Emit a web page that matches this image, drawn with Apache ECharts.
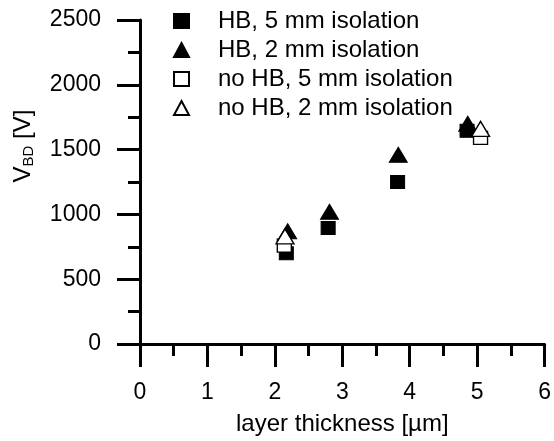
<!DOCTYPE html>
<html>
<head>
<meta charset="utf-8">
<script src="https://cdn.jsdelivr.net/npm/echarts@6/dist/echarts.min.js"></script>
<style>
html,body{margin:0;padding:0;background:#fff;}
#c{width:554px;height:441px;}
</style>
</head>
<body>
<div id="c"></div>
<script>
const seriesNames = ['HB, 5 mm isolation', 'HB, 2 mm isolation', 'no HB, 5 mm isolation', 'no HB, 2 mm isolation'];
const hb5 = [[2.17, 700], [2.79, 895], [3.82, 1250], [4.85, 1645]];
const hb2 = [[2.19, 870], [2.81, 1020], [3.83, 1460], [4.86, 1700]];
const nohb5 = [[2.14, 760], [5.05, 1590]];
const nohb2 = [[2.15, 830], [5.05, 1660]];
const xTicks = [0, 1, 2, 3, 4, 5, 6];
const yTicks = [0, 500, 1000, 1500, 2000, 2500];
const xTitle = 'layer thickness [µm]';

const font = 'Liberation Sans, Arial, sans-serif';
const chart = echarts.init(document.getElementById('c'));
const axisCommon = {
  axisLine: {onZero: false, lineStyle: {color: '#000', width: 3}},
  axisTick: {inside: false, length: 23, lineStyle: {color: '#000', width: 3}},
  minorTick: {show: true, splitNumber: 2, length: 12, lineStyle: {color: '#000', width: 3}},
  splitLine: {show: false},
  minorSplitLine: {show: false}
};
chart.setOption({
  backgroundColor: '#fff',
  animation: false,
  textStyle: {fontFamily: font, color: '#000'},
  grid: {left: 140, right: 4, top: 20, bottom: 97, containLabel: false},
  legend: {
    orient: 'vertical', left: 168, top: 4, itemGap: 5,
    itemWidth: 15, itemHeight: 14,
    textStyle: {fontFamily: font, fontSize: 24, color: '#000', lineHeight: 24, padding: [0, 0, 0, 24]},
    data: seriesNames
  },
  graphic: [{
    type: 'text', x: 23, y: 146, rotation: Math.PI / 2,
    style: {
      text: '{a|V}{b|BD}{a| [V]}', align: 'center', verticalAlign: 'middle',
      rich: {
        a: {fontFamily: font, fontSize: 24, fill: '#000'},
        b: {fontFamily: font, fontSize: 15, fill: '#000', padding: [11, 0, 0, 0]}
      }
    }
  }],
  xAxis: Object.assign({
    type: 'value', min: xTicks[0], max: xTicks[xTicks.length - 1], interval: 1,
    name: xTitle, nameLocation: 'middle', nameGap: 68,
    nameTextStyle: {fontFamily: font, fontSize: 24, color: '#000'},
    axisLabel: {margin: 37, fontFamily: font, fontSize: 23, color: '#000', showMaxLabel: true,
      formatter: v => String(v)}
  }, axisCommon),
  yAxis: Object.assign({
    type: 'value', min: yTicks[0], max: yTicks[yTicks.length - 1], interval: 500,
    axisLabel: {margin: 39, fontFamily: font, fontSize: 23, color: '#000',
      formatter: v => String(v)}
  }, axisCommon),
  series: [
    {name: seriesNames[0], type: 'scatter', data: hb5, symbol: 'rect', symbolSize: [14, 13],
     itemStyle: {color: '#000', borderColor: '#000', borderWidth: 1, opacity: 1}},
    {name: seriesNames[1], type: 'scatter', data: hb2, symbol: 'triangle', symbolSize: [18, 15],
     itemStyle: {color: '#000', borderColor: '#000', borderWidth: 1, opacity: 1}},
    {name: seriesNames[2], type: 'scatter', data: nohb5, symbol: 'rect', symbolSize: [14, 13],
     itemStyle: {color: '#fff', borderColor: '#000', borderWidth: 1.3, opacity: 1}},
    {name: seriesNames[3], type: 'scatter', data: nohb2, symbol: 'triangle', symbolSize: [18, 15],
     itemStyle: {color: '#fff', borderColor: '#000', borderWidth: 1.3, opacity: 1}}
  ]
});
</script>
</body>
</html>
